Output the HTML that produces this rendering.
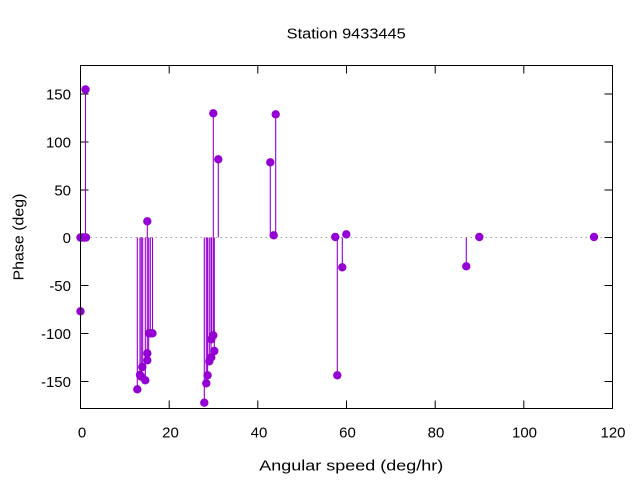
<!DOCTYPE html>
<html><head><meta charset="utf-8"><style>
html,body{margin:0;padding:0;background:#fff;}
svg{display:block;}
text{font-family:"Liberation Sans",sans-serif;font-size:15px;fill:#000;}
</style></head><body>
<svg width="640" height="480" viewBox="0 0 640 480" xmlns="http://www.w3.org/2000/svg">
<rect width="640" height="480" fill="#fff"/>
<!-- zero axis -->
<line x1="80.5" y1="237.5" x2="612.5" y2="237.5" stroke="#a0a0a0" stroke-width="1" stroke-dasharray="1.5 3.5"/>
<!-- ticks -->
<g stroke="#000" stroke-width="1">
<line x1="80.5" y1="94" x2="88.5" y2="94"/><line x1="612.5" y1="94" x2="604.5" y2="94"/>
<line x1="80.5" y1="142" x2="88.5" y2="142"/><line x1="612.5" y1="142" x2="604.5" y2="142"/>
<line x1="80.5" y1="190" x2="88.5" y2="190"/><line x1="612.5" y1="190" x2="604.5" y2="190"/>
<line x1="80.5" y1="237.5" x2="88.5" y2="237.5"/><line x1="612.5" y1="237.5" x2="604.5" y2="237.5"/>
<line x1="80.5" y1="285.5" x2="88.5" y2="285.5"/><line x1="612.5" y1="285.5" x2="604.5" y2="285.5"/>
<line x1="80.5" y1="333.5" x2="88.5" y2="333.5"/><line x1="612.5" y1="333.5" x2="604.5" y2="333.5"/>
<line x1="80.5" y1="381.5" x2="88.5" y2="381.5"/><line x1="612.5" y1="381.5" x2="604.5" y2="381.5"/>
<line x1="169.2" y1="408.5" x2="169.2" y2="400.5"/><line x1="169.2" y1="65.5" x2="169.2" y2="73.5"/>
<line x1="257.8" y1="408.5" x2="257.8" y2="400.5"/><line x1="257.8" y1="65.5" x2="257.8" y2="73.5"/>
<line x1="346.5" y1="408.5" x2="346.5" y2="400.5"/><line x1="346.5" y1="65.5" x2="346.5" y2="73.5"/>
<line x1="435.2" y1="408.5" x2="435.2" y2="400.5"/><line x1="435.2" y1="65.5" x2="435.2" y2="73.5"/>
<line x1="523.8" y1="408.5" x2="523.8" y2="400.5"/><line x1="523.8" y1="65.5" x2="523.8" y2="73.5"/>
</g>
<!-- stems -->
<g stroke="#9400d3" stroke-width="1.1">
<line x1="85.5" y1="237.5" x2="85.5" y2="89.5"/>
<line x1="137.3" y1="237.5" x2="137.3" y2="389.3"/>
<line x1="140" y1="237.5" x2="140" y2="375"/>
<line x1="141.3" y1="237.5" x2="141.3" y2="376.7"/>
<line x1="142.7" y1="237.5" x2="142.7" y2="367"/>
<line x1="145.3" y1="237.5" x2="145.3" y2="380.3"/>
<line x1="147.3" y1="237.5" x2="147.3" y2="360.3"/>
<line x1="147.3" y1="237.5" x2="147.3" y2="221.3"/>
<line x1="148.7" y1="237.5" x2="148.7" y2="353.3"/>
<line x1="150.3" y1="237.5" x2="150.3" y2="333.3"/>
<line x1="152.5" y1="237.5" x2="152.5" y2="333.3"/>
<line x1="204.3" y1="237.5" x2="204.3" y2="402.7"/>
<line x1="206.3" y1="237.5" x2="206.3" y2="383.3"/>
<line x1="207.6" y1="237.5" x2="207.6" y2="375.3"/>
<line x1="209.3" y1="237.5" x2="209.3" y2="361.3"/>
<line x1="211" y1="237.5" x2="211" y2="357.3"/>
<line x1="211.6" y1="237.5" x2="211.6" y2="339.3"/>
<line x1="213.3" y1="237.5" x2="213.3" y2="335.3"/>
<line x1="214.3" y1="237.5" x2="214.3" y2="351"/>
<line x1="213.3" y1="237.5" x2="213.3" y2="113.3"/>
<line x1="218.3" y1="237.5" x2="218.3" y2="159.3"/>
<line x1="270.3" y1="237.5" x2="270.3" y2="162.3"/>
<line x1="275.7" y1="237.5" x2="275.7" y2="114.3"/>
<line x1="337.3" y1="237.5" x2="337.3" y2="375.3"/>
<line x1="342.3" y1="237.5" x2="342.3" y2="267.3"/>
<line x1="346.3" y1="237.5" x2="346.3" y2="234.3"/>
<line x1="466.3" y1="237.5" x2="466.3" y2="266.3"/>
</g>
<!-- points -->
<g fill="#9400d3">
<circle cx="80.5" cy="237.5" r="4.2"/>
<circle cx="80.5" cy="311.3" r="4.2"/>
<circle cx="82.3" cy="237.5" r="4.2"/>
<circle cx="84" cy="237.5" r="4.2"/>
<circle cx="86" cy="237.5" r="4.2"/>
<circle cx="85.5" cy="89.5" r="4.2"/>
<circle cx="137.3" cy="389.3" r="4.2"/>
<circle cx="140" cy="375" r="4.2"/>
<circle cx="141.3" cy="376.7" r="4.2"/>
<circle cx="142.3" cy="367" r="4.2"/>
<circle cx="145.3" cy="380.3" r="4.2"/>
<circle cx="147.3" cy="221.3" r="4.2"/>
<circle cx="147.3" cy="353.3" r="4.2"/>
<circle cx="147.3" cy="360.3" r="4.2"/>
<circle cx="149" cy="333.3" r="4.2"/>
<circle cx="150.5" cy="333.3" r="4.2"/>
<circle cx="152.5" cy="333.3" r="4.2"/>
<circle cx="204.3" cy="402.7" r="4.2"/>
<circle cx="206.3" cy="383.3" r="4.2"/>
<circle cx="207.6" cy="375.3" r="4.2"/>
<circle cx="209.3" cy="361.3" r="4.2"/>
<circle cx="211.3" cy="357.3" r="4.2"/>
<circle cx="211.3" cy="339.3" r="4.2"/>
<circle cx="213.3" cy="335.3" r="4.2"/>
<circle cx="214.3" cy="351" r="4.2"/>
<circle cx="213.3" cy="113.3" r="4.2"/>
<circle cx="218.3" cy="159.3" r="4.2"/>
<circle cx="270.3" cy="162.3" r="4.2"/>
<circle cx="275.7" cy="114.3" r="4.2"/>
<circle cx="273.7" cy="235.3" r="4.2"/>
<circle cx="335.3" cy="237" r="4.2"/>
<circle cx="337.3" cy="375.3" r="4.2"/>
<circle cx="342.3" cy="267.3" r="4.2"/>
<circle cx="346.3" cy="234.3" r="4.2"/>
<circle cx="466.3" cy="266.3" r="4.2"/>
<circle cx="479.3" cy="237" r="4.2"/>
<circle cx="594" cy="237" r="4.2"/>
</g>
<!-- border -->
<rect x="80.5" y="65.5" width="532" height="343" fill="none" stroke="#000" stroke-width="1"/>
<!-- y tick labels -->
<g text-anchor="end">
<text x="71" y="99.5">150</text>
<text x="71" y="147.5">100</text>
<text x="71" y="195.5">50</text>
<text x="71" y="243">0</text>
<text x="71" y="291">-50</text>
<text x="71" y="339">-100</text>
<text x="71" y="387">-150</text>
</g>
<!-- x tick labels -->
<g text-anchor="middle">
<text x="82" y="437.5">0</text>
<text x="170.5" y="437.5">20</text>
<text x="259" y="437.5">40</text>
<text x="347.5" y="437.5">60</text>
<text x="436" y="437.5">80</text>
<text x="524.5" y="437.5">100</text>
<text x="613" y="437.5">120</text>
</g>
<text x="286.7" y="38.3" textLength="119" lengthAdjust="spacingAndGlyphs">Station 9433445</text>
<text x="259.3" y="470.5" textLength="184" lengthAdjust="spacingAndGlyphs">Angular speed (deg/hr)</text>
<text transform="translate(23.5,280.5) rotate(-90)" x="0" y="0" textLength="87" lengthAdjust="spacingAndGlyphs">Phase (deg)</text>
</svg>
</body></html>
